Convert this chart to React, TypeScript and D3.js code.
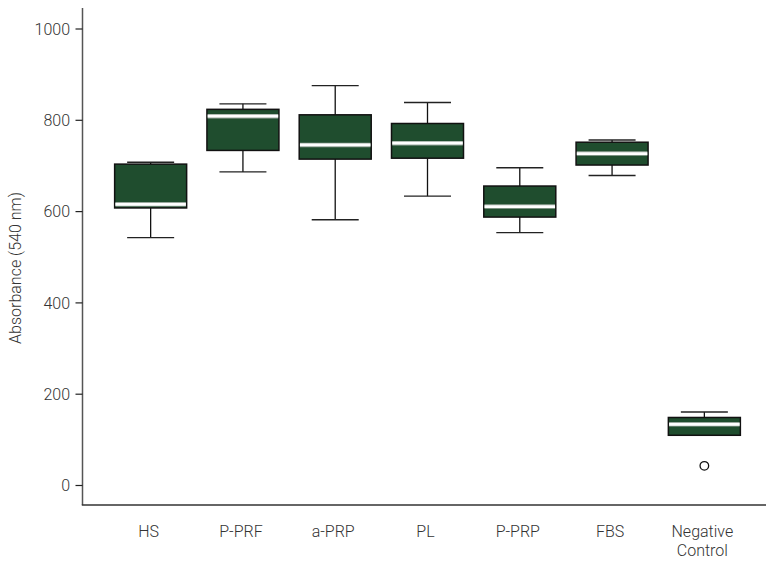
import React from "react";
import * as d3 from "d3";

const categories = ["HS", "P-PRF", "a-PRP", "PL", "P-PRP", "FBS", "Negative Control"];
const whiskerLow = [543, 687, 582, 634, 554, 679, 110];
const q1 = [608, 734, 715, 717, 588, 702, 110];
const median = [616, 809, 746, 750, 611, 727, 134];
const q3 = [704, 824, 812, 793, 656, 752, 149];
const whiskerHigh = [708, 836, 876, 839, 696, 757, 161];
const outliers = [[], [], [], [], [], [], [43]];
const yTicks = [0, 200, 400, 600, 800, 1000];

const W = 766;
const H = 562;
const axisX = 82.5;
const axisY = 505;

export default function App() {
  const y = d3.scaleLinear().domain([0, 1000]).range([485.5, 29]);
  const x = d3.scaleBand().domain(categories).range([104.5, 750.5]).padding(0);
  const boxW = 72;
  const capW = 47;
  const font = "Roboto, 'Noto Sans', sans-serif";

  return (
    <svg width={W} height={H} style={{ position: "absolute", left: 0, top: 0, background: "#fff" }}>
      <line x1={axisX} x2={axisX} y1={8} y2={axisY} stroke="#555" strokeWidth={1.5} />
      <line x1={axisX - 0.7} x2={W} y1={axisY} y2={axisY} stroke="#333" strokeWidth={1.5} />
      {yTicks.map((t) => (
        <g key={t}>
          <line x1={75.5} x2={axisX} y1={y(t)} y2={y(t)} stroke="#222" strokeWidth={1.2} />
          <text x={70} y={y(t)} dy="0.35em" textAnchor="end" fontSize={16} fill="#333" fontFamily={font} fontWeight={300}>
            {t}
          </text>
        </g>
      ))}
      <text
        transform={`translate(15,268) rotate(-90)`}
        textAnchor="middle"
        dy="0.35em"
        fontSize={16}
        fill="#333"
        fontFamily={font}
        fontWeight={300}
      >
        Absorbance (540 nm)
      </text>
      {categories.map((c, i) => {
        const cx = (x(c) as number) + x.bandwidth() / 2;
        const lines = c === "Negative Control" ? ["Negative", "Control"] : [c];
        return (
          <g key={c}>
            <line x1={cx} x2={cx} y1={y(whiskerHigh[i])} y2={y(q3[i])} stroke="#111" strokeWidth={1.3} />
            <line x1={cx} x2={cx} y1={y(q1[i])} y2={y(whiskerLow[i])} stroke="#111" strokeWidth={1.3} />
            <line x1={cx - capW / 2} x2={cx + capW / 2} y1={y(whiskerHigh[i])} y2={y(whiskerHigh[i])} stroke="#222" strokeWidth={1.4} />
            {whiskerLow[i] !== q1[i] && (
              <line x1={cx - capW / 2} x2={cx + capW / 2} y1={y(whiskerLow[i])} y2={y(whiskerLow[i])} stroke="#222" strokeWidth={1.4} />
            )}
            <rect
              x={cx - boxW / 2}
              y={y(q3[i])}
              width={boxW}
              height={y(q1[i]) - y(q3[i])}
              fill="#1f4d2e"
              stroke="#111"
              strokeWidth={1.5}
            />
            <line x1={cx - boxW / 2 + 0.75} x2={cx + boxW / 2 - 0.75} y1={y(median[i])} y2={y(median[i])} stroke="#9aa89e" strokeWidth={4.5} />
            <line x1={cx - boxW / 2 + 0.75} x2={cx + boxW / 2 - 0.75} y1={y(median[i])} y2={y(median[i])} stroke="#fff" strokeWidth={2.8} />
            {outliers[i].map((o, k) => (
              <circle key={k} cx={cx} cy={y(o)} r={4.3} fill="#fff" stroke="#111" strokeWidth={1.3} />
            ))}
            {lines.map((l, k) => (
              <text key={l} x={cx - 2} y={531 + k * 19} dy="0.35em" textAnchor="middle" fontSize={16} fill="#333" fontFamily={font} fontWeight={300}>
                {l}
              </text>
            ))}
          </g>
        );
      })}
    </svg>
  );
}
